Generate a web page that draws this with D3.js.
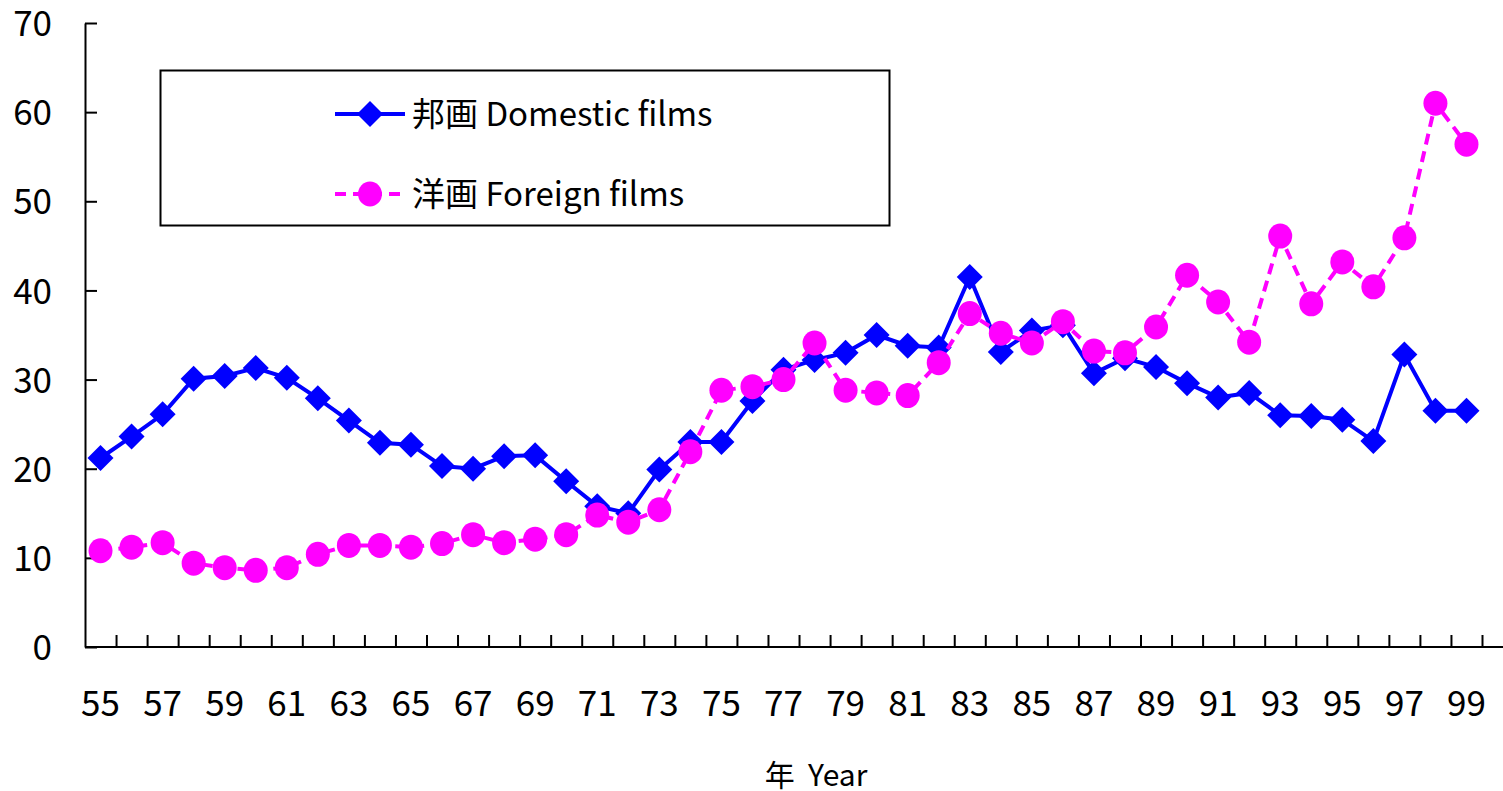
<!DOCTYPE html>
<html>
<head>
<meta charset="utf-8">
<script src="https://cdn.jsdelivr.net/npm/d3@7"></script>
<style>
  body { margin: 0; background: #fff; }
  text { font-family: "Noto Sans CJK JP", "Noto Sans", sans-serif; fill: #000; }
</style>
</head>
<body>
<div id="chart"></div>
<script>
//Years on the x axis (19xx)
const years = d3.range(55, 100)
//Labels shown below the axis
const yearLabels = years.filter(function(d){ return d % 2 == 1 })
const yTicks = [0, 10, 20, 30, 40, 50, 60, 70]

//邦画 Domestic films
const domestic = [21.2, 23.6, 26.1, 30.1, 30.4, 31.3, 30.2, 27.9, 25.4, 22.9,
                  22.7, 20.3, 20.0, 21.4, 21.5, 18.6, 15.8, 15.0, 19.9, 23.0,
                  23.0, 27.6, 31.1, 32.2, 33.0, 35.0, 33.8, 33.6, 41.5, 33.1,
                  35.5, 36.1, 30.7, 32.4, 31.4, 29.6, 28.0, 28.5, 26.0, 25.9,
                  25.5, 23.1, 32.8, 26.5, 26.5]
//洋画 Foreign films
const foreign = [10.8, 11.2, 11.7, 9.4, 8.9, 8.6, 8.9, 10.4, 11.4, 11.4,
                 11.2, 11.6, 12.6, 11.7, 12.1, 12.6, 14.8, 14.0, 15.4, 21.9,
                 28.8, 29.2, 30.0, 34.1, 28.8, 28.5, 28.2, 31.9, 37.4, 35.2,
                 34.1, 36.5, 33.2, 33.0, 35.9, 41.7, 38.7, 34.2, 46.1, 38.5,
                 43.2, 40.4, 45.9, 61.0, 56.4]

const width = 1503
const height = 791
const margin = {top: 23, left: 85, right: 21, bottom: 144}

const svg = d3.select("#chart")
  .append("svg")
  .attr("width", width)
  .attr("height", height)

//Scales
const x = d3.scaleBand()
  .domain(years)
  .range([margin.left, 1482])
  .padding(0)

const xEdge = d3.scaleLinear()
  .domain([0, years.length])
  .range([margin.left, 1482])

const y = d3.scaleLinear()
  .domain([0, 70])
  .range([height - margin.bottom, margin.top])

//Y axis, ticks pointing into the plot
const yAxis = d3.axisLeft(y)
  .tickValues(yTicks)
  .tickSizeInner(-12)
  .tickSizeOuter(0)
  .tickPadding(33)

svg.append("g")
  .attr("class", "y axis")
  .attr("transform", "translate(" + margin.left + ",0)")
  .call(yAxis)
  .call(function(g){
    g.select(".domain").attr("stroke", "#000").attr("stroke-width", 2)
    g.selectAll(".tick line").attr("stroke", "#000").attr("stroke-width", 2)
    g.selectAll(".tick text").style("font-size", "35px").attr("dy", "0.36em")
  })

//X axis line, drawn out to the right edge
svg.append("line")
  .attr("x1", margin.left)
  .attr("x2", width)
  .attr("y1", y(0))
  .attr("y2", y(0))
  .attr("stroke", "#000")
  .attr("stroke-width", 2)

//Tick marks between categories
const xTickAxis = d3.axisBottom(xEdge)
  .tickValues(d3.range(1, years.length + 1))
  .tickSizeInner(-12)
  .tickSizeOuter(0)
  .tickFormat("")

svg.append("g")
  .attr("class", "x ticks")
  .attr("transform", "translate(0," + y(0) + ")")
  .call(xTickAxis)
  .call(function(g){
    g.select(".domain").remove()
    g.selectAll(".tick line").attr("stroke", "#000").attr("stroke-width", 2)
  })

//Year labels every other year
const xAxis = d3.axisBottom(x)
  .tickValues(yearLabels)
  .tickSize(0)
  .tickPadding(44)

svg.append("g")
  .attr("class", "x axis")
  .attr("transform", "translate(0," + y(0) + ")")
  .call(xAxis)
  .call(function(g){
    g.select(".domain").remove()
    g.selectAll(".tick text").style("font-size", "35px")
  })

//Axis title
svg.append("text")
  .attr("x", 816)
  .attr("y", 786)
  .attr("text-anchor", "middle")
  .style("font-size", "30px")
  .attr("xml:space", "preserve")
  .text("年  Year")

const cx = function(d, i){ return x(years[i]) + x.bandwidth() / 2 }

//Domestic line and diamonds
const line = d3.line()
  .x(cx)
  .y(function(d){ return y(d) })

svg.append("path")
  .datum(domestic)
  .attr("d", line)
  .attr("fill", "none")
  .attr("stroke", "#0000ff")
  .attr("stroke-width", 4)

svg.selectAll(".diamond")
  .data(domestic)
  .enter()
  .append("path")
  .attr("class", "diamond")
  .attr("d", "M0,-13L13,0L0,13L-13,0Z")
  .attr("fill", "#0000ff")
  .attr("transform", function(d, i){ return "translate(" + cx(d, i) + "," + y(d) + ")" })

//Foreign line (dashed) and circles
svg.append("path")
  .datum(foreign)
  .attr("d", line)
  .attr("fill", "none")
  .attr("stroke", "#ff00ff")
  .attr("stroke-width", 4)
  .attr("stroke-dasharray", "11,7")

svg.selectAll(".dot")
  .data(foreign)
  .enter()
  .append("ellipse")
  .attr("class", "dot")
  .attr("cx", cx)
  .attr("cy", function(d){ return y(d) })
  .attr("rx", 12)
  .attr("ry", 12.5)
  .attr("fill", "#ff00ff")

//Legend
const legend = svg.append("g").attr("class", "legend")

legend.append("rect")
  .attr("x", 160.5)
  .attr("y", 70.5)
  .attr("width", 729)
  .attr("height", 155)
  .attr("fill", "#fff")
  .attr("stroke", "#000")
  .attr("stroke-width", 2)

const legendItems = [
  {label: "邦画 Domestic films", color: "#0000ff", dash: null, shape: "diamond", ly: 114},
  {label: "洋画 Foreign films", color: "#ff00ff", dash: "11,7", shape: "circle", ly: 194}
]

legendItems.forEach(function(item){
  legend.append("line")
    .attr("x1", 335)
    .attr("x2", 405)
    .attr("y1", item.ly)
    .attr("y2", item.ly)
    .attr("stroke", item.color)
    .attr("stroke-width", 4)
    .attr("stroke-dasharray", item.dash)
  if (item.shape == "diamond") {
    legend.append("path")
      .attr("d", "M0,-13L13,0L0,13L-13,0Z")
      .attr("fill", item.color)
      .attr("transform", "translate(370," + item.ly + ")")
  } else {
    legend.append("ellipse")
      .attr("cx", 370)
      .attr("cy", item.ly)
      .attr("rx", 12)
      .attr("ry", 12.5)
      .attr("fill", item.color)
  }
  legend.append("text")
    .attr("x", 412)
    .attr("y", item.ly)
    .attr("dy", "0.36em")
    .style("font-size", "33px")
    .text(item.label)
})
</script>
</body>
</html>
